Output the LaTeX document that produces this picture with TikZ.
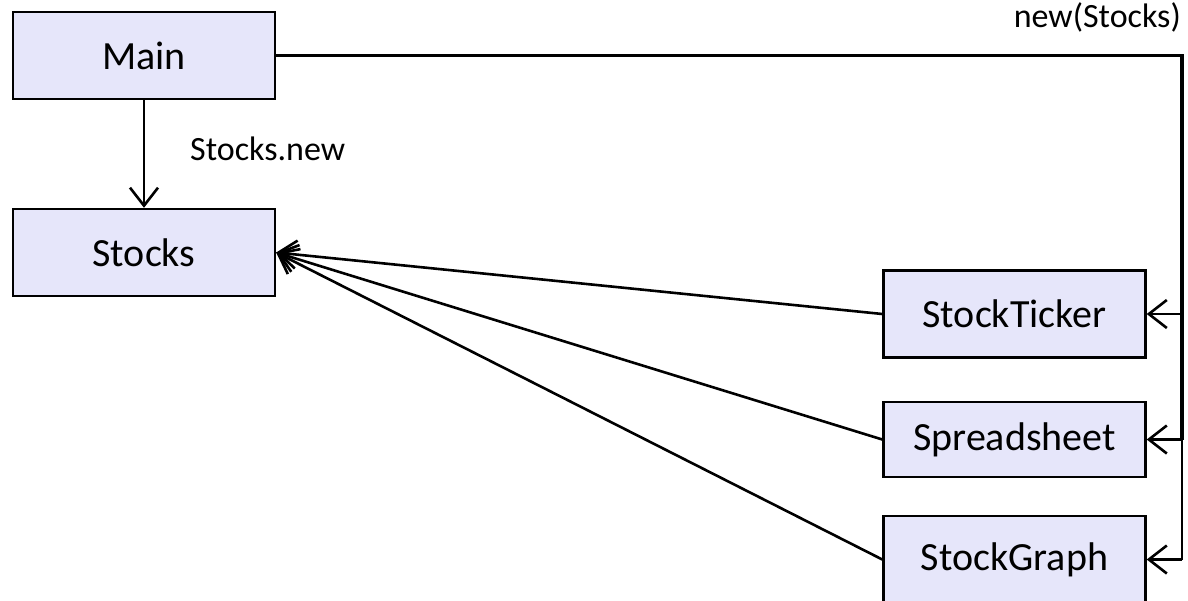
\documentclass[tikz,border=0pt]{standalone}
\usepackage{fontspec}
\setmainfont{Carlito}
\usetikzlibrary{arrows.meta}
\definecolor{boxfill}{RGB}{230,230,250}
\tikzset{
  cls/.style={draw=black, fill=boxfill, line width=2.4pt, inner sep=0pt, minimum width=262pt, font=\fontsize{40}{46}\selectfont},
  lbl/.style={font=\fontsize{34}{40}\selectfont, inner sep=0pt},
  conn/.style={line width=2.6pt},
  openarrow/.style={conn, -{Straight Barb[length=18pt, width=28pt, line width=2.6pt]}}
}
\begin{document}
\begin{tikzpicture}[x=1pt, y=-1pt]
\useasboundingbox (0,0) rectangle (1188,600);
\node[cls, minimum height=87pt] (main) at (144,55.5) {Main};
\node[cls, minimum height=87pt] (stocks) at (144,252.5) {Stocks};
\node[cls, minimum height=87pt] (ticker) at (1014.5,314) {StockTicker};
\node[cls, minimum height=75pt] (sheet) at (1014.5,439.5) {Spreadsheet};
\node[cls, minimum height=87pt] (graph) at (1014.5,559.5) {StockGraph};
\node[lbl, anchor=west] (lnew) at (190,149) {Stocks.new};
\node[lbl, anchor=east] (lnewS) at (1181,17) {new(Stocks)};
\coordinate (corner) at (1182,55.5);
\coordinate (b1) at (1182,314);
\coordinate (b2) at (1182,439.5);
\coordinate (b3) at (1182,559.5);
\draw[openarrow] (main) -- (stocks);
\draw[line width=3.6pt] (main.east) -- (corner) -- (b2);
\draw[conn] (b2) -- (b3);
\draw[openarrow] (b1) -- (ticker.east);
\draw[openarrow] (b2) -- (sheet.east);
\draw[openarrow] (b3) -- (graph.east);
\draw[openarrow] (ticker.west) -- (stocks.east);
\draw[openarrow] (sheet.west) -- (stocks.east);
\draw[openarrow] (graph.west) -- (stocks.east);
\end{tikzpicture}
\end{document}
